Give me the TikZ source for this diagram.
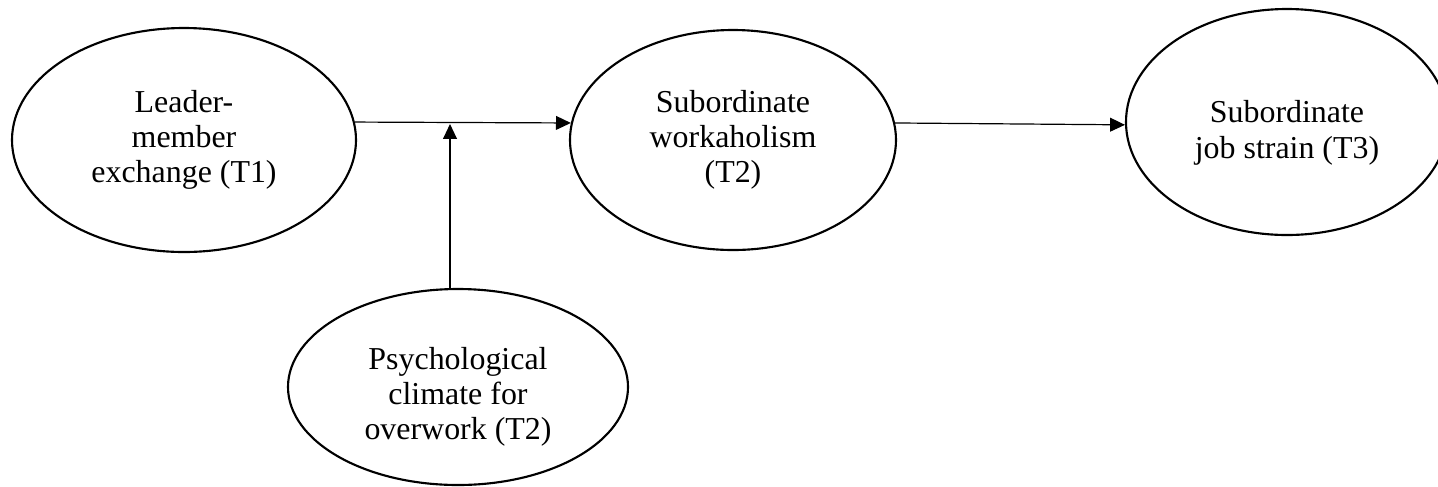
\documentclass[tikz,border=0pt]{standalone}
\usepackage{fontspec}
\setmainfont{Liberation Serif}
\usetikzlibrary{arrows.meta}
\usetikzlibrary{shapes.geometric}

\def\px{0.376pt}
\tikzset{
  construct/.style={draw, ellipse, line width=0.8pt, inner sep=0pt, align=center,
    font=\fontsize{12}{13.2}\selectfont},
  link/.style={line width=0.45pt, -{Triangle[length=5.6pt, width=5.2pt]}}
}

\begin{document}
\begin{tikzpicture}[x=\px, y=-\px]
\useasboundingbox (0,0) rectangle (1438,486);

\node[construct, minimum width=344*\px, minimum height=224*\px] (lmx) at (184,140) {Leader-\\member\\exchange (T1)};
\node[construct, minimum width=326*\px, minimum height=220*\px] (work) at (733,140) {Subordinate\\workaholism\\(T2)};
\node[construct, minimum width=340*\px, minimum height=196*\px] (climate) at (458,387) {\rule{0pt}{15.5pt}Psychological\\climate for\\overwork (T2)};
\node[construct, minimum width=322*\px, minimum height=226*\px] (strain) at (1287,122) {\rule{0pt}{16.5pt}Subordinate\\job strain (T3)};

\coordinate (mod) at (450,124);

\draw[link] (lmx.6) -- (work.174);
\draw[link] (mod |- climate.north) -- (mod);
\draw[link] (work.6) -- (strain.181);

\end{tikzpicture}
\end{document}
